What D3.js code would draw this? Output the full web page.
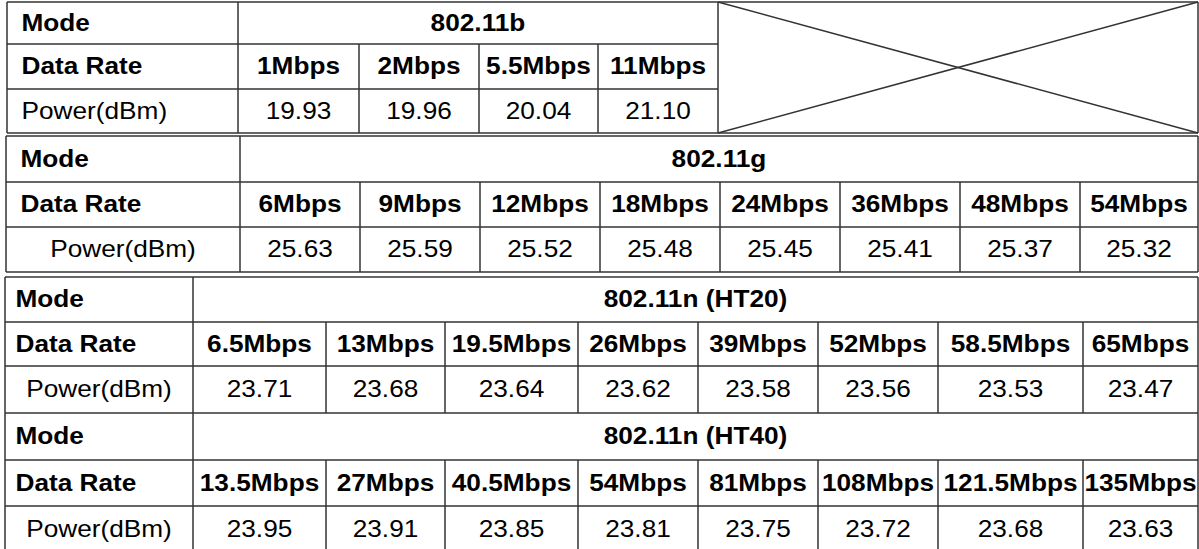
<!DOCTYPE html>
<html>
<head>
<meta charset="utf-8">
<script src="https://cdn.jsdelivr.net/npm/d3@7"></script>
<style>
  html, body { margin: 0; padding: 0; background: #fff; }
  text { font-family: "Liberation Sans", Arial, sans-serif; fill: #000; }
</style>
</head>
<body>
<div id="chart"></div>
<script>
// values
const modes = ["802.11b", "802.11g", "802.11n (HT20)", "802.11n (HT40)"];
const rowLabels = ["Mode", "Data Rate", "Power(dBm)"];

const rates11b = ["1Mbps", "2Mbps", "5.5Mbps", "11Mbps"];
const power11b = [19.93, 19.96, 20.04, 21.10];

const rates11g = ["6Mbps", "9Mbps", "12Mbps", "18Mbps", "24Mbps", "36Mbps", "48Mbps", "54Mbps"];
const power11g = [25.63, 25.59, 25.52, 25.48, 25.45, 25.41, 25.37, 25.32];

const ratesHT20 = ["6.5Mbps", "13Mbps", "19.5Mbps", "26Mbps", "39Mbps", "52Mbps", "58.5Mbps", "65Mbps"];
const powerHT20 = [23.71, 23.68, 23.64, 23.62, 23.58, 23.56, 23.53, 23.47];

const ratesHT40 = ["13.5Mbps", "27Mbps", "40.5Mbps", "54Mbps", "81Mbps", "108Mbps", "121.5Mbps", "135Mbps"];
const powerHT40 = [23.95, 23.91, 23.85, 23.81, 23.75, 23.72, 23.68, 23.63];

const W = 1199, H = 549;
const fontSize = 23, stretch = 1.14;
const lineColor = "#333";
const fmt = d3.format(".2f");

// layout of each block: column edges and row edges in px
const blocks = [
    { mode: modes[0], rates: rates11b, powers: power11b,
      left: 7, right: 1198, edges: [238, 359, 479, 598, 718], rows: [2, 44, 89, 133],
      labelX: 21.5, powerCentered: false, cross: true, top: true, bottom: true },
    { mode: modes[1], rates: rates11g, powers: power11g,
      left: 6, right: 1198, edges: [240, 360, 480, 600, 720, 840, 960, 1080, 1198], rows: [136, 182, 227, 272],
      labelX: 20.5, powerCentered: true, top: true, bottom: true },
    { mode: modes[2], rates: ratesHT20, powers: powerHT20,
      left: 5, right: 1198, edges: [193, 326, 445, 578, 698, 818, 938, 1083, 1198], rows: [277, 322, 366, 413],
      labelX: 15.5, powerCentered: true, top: true, bottom: true },
    { mode: modes[3], rates: ratesHT40, powers: powerHT40,
      left: 5, right: 1198, edges: [193, 326, 445, 578, 698, 818, 938, 1083, 1198], rows: [413, 460, 506, 552],
      labelX: 15.5, powerCentered: true, top: false, bottom: false }
];

const svg = d3.select("#chart").append("svg")
    .attr("width", W)
    .attr("height", H)
    .attr("viewBox", [0, 0, W, H]);

const lines = svg.append("g")
    .attr("stroke", lineColor)
    .attr("stroke-width", 1.5)
    .attr("fill", "none");
const labels = svg.append("g");

function addText(x, y, str, bold, anchor) {
    labels.append("text")
        .attr("transform", `translate(${x},${y}) scale(${stretch},1)`)
        .attr("text-anchor", anchor)
        .attr("font-size", fontSize)
        .attr("font-weight", bold ? "bold" : "normal")
        .text(str);
}

function hline(x1, x2, y) {
    lines.append("line").attr("x1", x1).attr("x2", x2).attr("y1", y).attr("y2", y);
}
function vline(x, y1, y2) {
    lines.append("line").attr("x1", x).attr("x2", x).attr("y1", y1).attr("y2", y2);
}

blocks.forEach(b => {
    const [r0, r1, r2, r3] = b.rows;
    const n = b.rates.length;
    // column scale: index -> left edge of the value column
    const colX = d3.scaleOrdinal()
        .domain(d3.range(n + 1))
        .range(b.edges.slice(0, n + 1));
    const mid = i => (colX(i) + colX(i + 1)) / 2;
    const base = (a, c) => (a + c) / 2 + 7.5;

    // horizontal rules
    if (b.top) hline(b.left, b.right, r0);
    hline(b.left, b.cross ? colX(n) : b.right, r1);
    hline(b.left, b.cross ? colX(n) : b.right, r2);
    if (b.bottom) hline(b.left, b.right, r3);

    // vertical rules
    vline(b.left, r0, r3);
    vline(b.right, r0, r3);
    vline(colX(0), r0, r3);
    d3.range(1, n).forEach(i => vline(colX(i), r1, r3));
    if (b.cross) {
        vline(colX(n), r0, r3);
        lines.append("line").attr("x1", colX(n)).attr("y1", r0).attr("x2", b.right).attr("y2", r3);
        lines.append("line").attr("x1", colX(n)).attr("y1", r3).attr("x2", b.right).attr("y2", r0);
    }

    // row labels
    addText(b.labelX, base(r0, r1), rowLabels[0], true, "start");
    addText(b.labelX, base(r1, r2), rowLabels[1], true, "start");
    if (b.powerCentered) addText((b.left + colX(0)) / 2, base(r2, r3), rowLabels[2], false, "middle");
    else addText(b.labelX, base(r2, r3), rowLabels[2], false, "start");

    // mode header
    addText((colX(0) + colX(n)) / 2, base(r0, r1), b.mode, true, "middle");

    // rates and powers
    b.rates.forEach((r, i) => addText(mid(i), base(r1, r2), r, true, "middle"));
    b.powers.forEach((p, i) => addText(mid(i), base(r2, r3), fmt(p), false, "middle"));
});
</script>
</body>
</html>
